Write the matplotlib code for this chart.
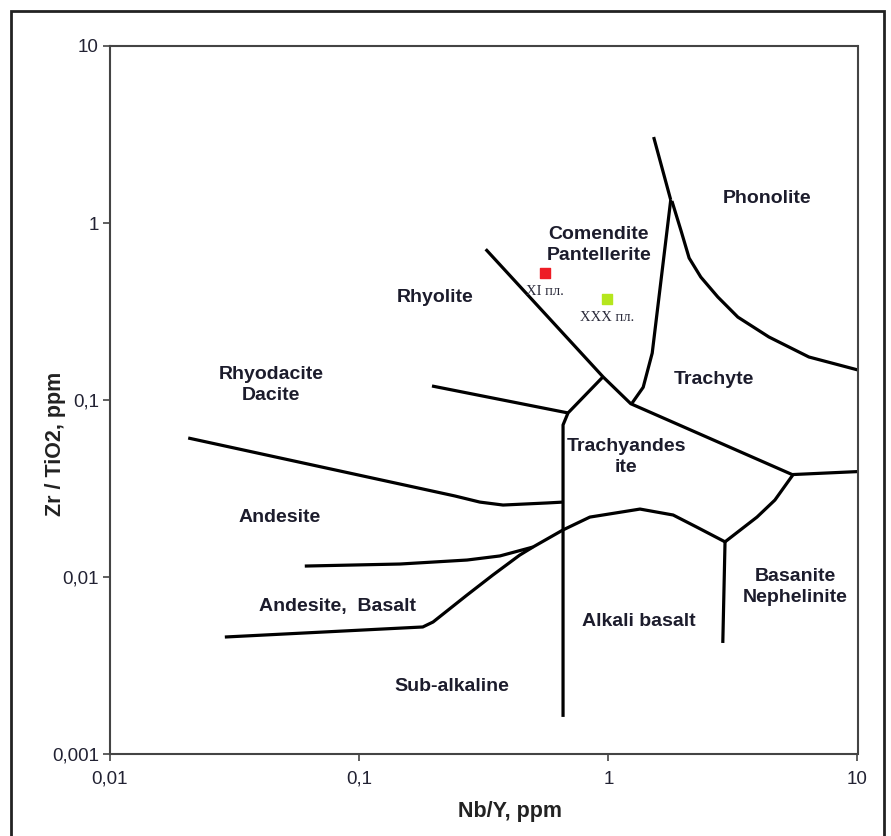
import matplotlib
matplotlib.use("Agg")
import matplotlib.pyplot as plt
from matplotlib.patches import Rectangle
from matplotlib.ticker import FixedLocator, FixedFormatter, NullLocator

# field boundaries (Nb/Y, Zr/TiO2)
rhy_x = [0.322, 0.953, 1.23, 5.47, 10.0]
rhy_y = [0.711, 0.135, 0.0953, 0.0379, 0.0394]

cp_x = [1.52, 1.78]
cp_y = [3.06, 1.35]

trach_x = [1.78, 1.50, 1.38, 1.245]
trach_y = [1.35, 0.184, 0.118, 0.096]

phon_x = [1.80, 1.96, 2.11, 2.35, 2.75, 3.31, 4.41, 6.38, 10.0]
phon_y = [1.33, 0.90, 0.634, 0.495, 0.382, 0.294, 0.227, 0.175, 0.148]

alk_x = [0.951, 0.689, 0.658, 0.658]
alk_y = [0.135, 0.0845, 0.0723, 0.00162]

rd_x = [0.196, 0.689]
rd_y = [0.120, 0.0845]

and_x = [0.0206, 0.242, 0.305, 0.378, 0.568, 0.658]
and_y = [0.061, 0.0287, 0.0265, 0.0255, 0.0262, 0.0265]

ab_x = [0.0605, 0.146, 0.271, 0.367, 0.498]
ab_y = [0.01153, 0.01184, 0.01247, 0.01315, 0.01476]

sub_x = [0.0289, 0.180, 0.198, 0.271, 0.344, 0.441, 0.498, 0.658, 0.843, 1.34, 1.82, 2.27, 2.94]
sub_y = [0.00458, 0.00522, 0.00557, 0.00791, 0.01026, 0.0133, 0.01476, 0.01845, 0.0218, 0.0242, 0.0224, 0.0191, 0.0158]

bas_x = [2.94, 3.95, 4.66, 5.50]
bas_y = [0.0158, 0.0218, 0.0272, 0.0377]

neph_x = [2.94, 2.88]
neph_y = [0.0158, 0.00424]

lines = [(rhy_x, rhy_y), (cp_x, cp_y), (trach_x, trach_y), (phon_x, phon_y),
         (alk_x, alk_y), (rd_x, rd_y), (and_x, and_y), (ab_x, ab_y),
         (sub_x, sub_y), (bas_x, bas_y), (neph_x, neph_y)]

# field names
field_names = ["Phonolite", "Comendite\nPantellerite", "Rhyolite", "Rhyodacite\nDacite",
               "Trachyte", "Trachyandes\nite", "Andesite", "Andesite,  Basalt",
               "Alkali basalt", "Basanite\nNephelinite", "Sub-alkaline"]
field_x = [4.33, 0.916, 0.201, 0.0443, 2.65, 1.18, 0.0481, 0.0815, 1.33, 5.61, 0.235]
field_y = [1.38, 0.751, 0.377, 0.1216, 0.130, 0.0477, 0.0218, 0.00677, 0.00564, 0.00879, 0.00242]

# samples
sample_names = ["XI пл.", "XXX пл."]
sample_x = [0.557, 0.99]
sample_y = [0.522, 0.371]
sample_colors = ["#ee1c25", "#b5e61d"]

xticks = [0.01, 0.1, 1, 10]
xtick_labels = ["0,01", "0,1", "1", "10"]
yticks = [0.001, 0.01, 0.1, 1, 10]
ytick_labels = ["0,001", "0,01", "0,1", "1", "10"]

plt.rcParams['font.family'] = ['Liberation Sans', 'DejaVu Sans']

fig = plt.figure(figsize=(8.91, 8.36), dpi=100)
ax = fig.add_axes([110/891, 1-754/836, (857.5-110)/891, (754-46)/836])
ax.set_xscale('log')
ax.set_yscale('log')
ax.set_xlim(0.01, 10)
ax.set_ylim(0.001, 10)

for lx, ly in lines:
    ax.plot(lx, ly, color='black', lw=2.3, solid_joinstyle='round', solid_capstyle='butt')

for name, x, y in zip(field_names, field_x, field_y):
    ax.text(x, y, name, ha='center', va='center', fontsize=14, fontweight='bold',
            color='#1c1c2c', linespacing=1.25)

for name, x, y, c in zip(sample_names, sample_x, sample_y, sample_colors):
    ax.scatter([x], [y], marker='s', s=60, color=c, zorder=3)
    ax.annotate(name, (x, y), xytext=(0, -13), textcoords='offset points', ha='center',
                va='center', fontsize=10.5, family=['Liberation Serif', 'DejaVu Serif'],
                color='#2a2a3a')

ax.xaxis.set_major_locator(FixedLocator(xticks))
ax.xaxis.set_major_formatter(FixedFormatter(xtick_labels))
ax.yaxis.set_major_locator(FixedLocator(yticks))
ax.yaxis.set_major_formatter(FixedFormatter(ytick_labels))
ax.xaxis.set_minor_locator(NullLocator())
ax.yaxis.set_minor_locator(NullLocator())
ax.tick_params(axis='both', direction='out', length=5, width=1.2, color='#444444',
               labelsize=13.5, labelcolor='#222233')
ax.tick_params(axis='x', pad=7)
ax.tick_params(axis='y', pad=3)
for sp in ax.spines.values():
    sp.set_color('#444444')
    sp.set_linewidth(1.5)

ax.set_xlabel("Nb/Y, ppm", fontsize=15.5, fontweight='bold', color='#222222')
ax.xaxis.set_label_coords((510-110)/747.5, -(801-754)/708)
ax.set_ylabel("Zr / TiO2, ppm", fontsize=15.5, fontweight='bold', color='#222222')
ax.yaxis.set_label_coords(-(110-66)/747.5, (754-444)/708)

fig.patches.append(Rectangle((11/891, -0.02), (884-11)/891, 1.02-11/836,
                             transform=fig.transFigure, fill=False,
                             edgecolor='#222222', lw=2))

fig.savefig("out.png", dpi=100)
